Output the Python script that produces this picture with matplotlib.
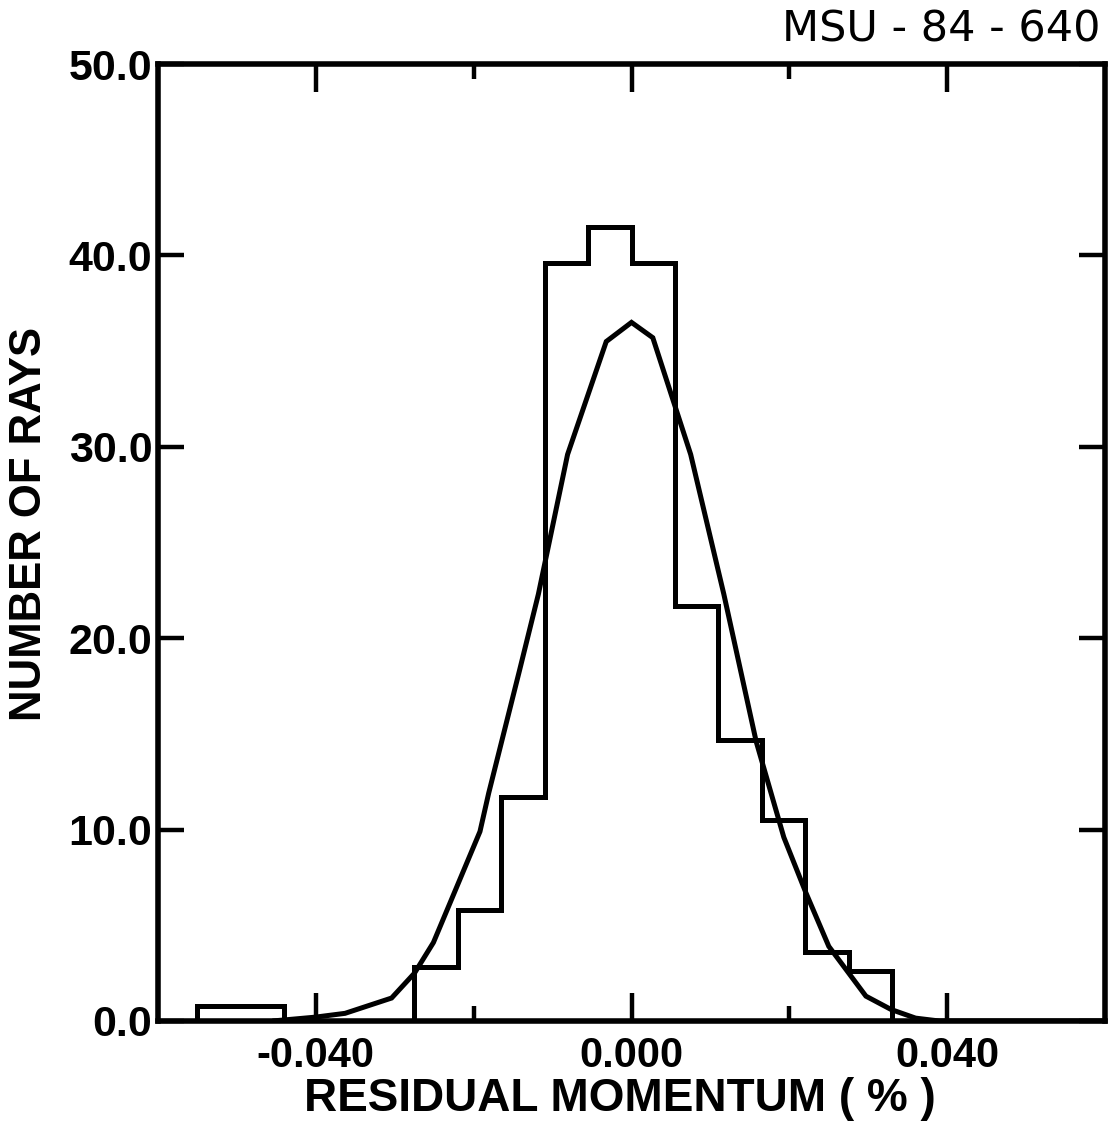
import matplotlib
matplotlib.use("Agg")
import matplotlib.pyplot as plt

# histogram of residual momentum, bin width 0.0055 %
bin_edges = [-0.0550, -0.0495, -0.0440, -0.0385, -0.0330, -0.0275, -0.0220,
             -0.0165, -0.0110, -0.0055, 0.0000, 0.0055, 0.0110, 0.0165,
             0.0220, 0.0275, 0.0330]
ray_counts = [0.8, 0.8, 0.0, 0.0, 0.0, 2.8, 5.8, 11.7, 39.6, 41.5,
              39.6, 21.7, 14.7, 10.5, 3.6, 2.6]

# fitted curve, as plotted (polyline vertices)
fit_x = [-0.0455, -0.0401, -0.0363, -0.0304, -0.0275, -0.0251, -0.0192,
         -0.0181, -0.0142, -0.0118, -0.0081, -0.0032, 0.0000, 0.0027,
         0.0075, 0.0117, 0.0158, 0.0193, 0.0221, 0.0250, 0.0297, 0.0329,
         0.0360, 0.0390, 0.0600]
fit_y = [0.0, 0.2, 0.4, 1.2, 2.5, 4.1, 9.9, 11.9, 18.3, 22.3, 29.6, 35.5,
         36.5, 35.7, 29.6, 22.3, 14.6, 9.6, 6.7, 3.9, 1.3, 0.6, 0.15, 0.0,
         0.0]

x_major = [-0.040, 0.000, 0.040]
x_major_labels = ["-0.040", "0.000", "0.040"]
x_minor = [-0.020, 0.020]
y_ticks = [0.0, 10.0, 20.0, 30.0, 40.0, 50.0]
y_labels = ["0.0", "10.0", "20.0", "30.0", "40.0", "50.0"]

W, H = 1115, 1133
fig = plt.figure(figsize=(W / 100, H / 100), dpi=100)
fig.patch.set_facecolor("white")
ax = fig.add_axes([158 / W, 1 - 1021 / H, 947 / W, 957 / H])

ax.stairs(ray_counts, bin_edges, color="black", linewidth=3.6)
ax.plot(fit_x, fit_y, color="black", linewidth=3.6,
        solid_joinstyle="miter", solid_capstyle="butt")

ax.set_xlim(-0.06, 0.06)
ax.set_ylim(0.0, 50.0)

for sp in ax.spines.values():
    sp.set_linewidth(4.0)
    sp.set_color("black")

tick_font = dict(family="Liberation Sans", weight="bold")
ax.set_xticks(x_major)
ax.set_xticklabels(x_major_labels, fontsize=30, **tick_font)
ax.set_xticks(x_minor, minor=True)
ax.set_yticks(y_ticks)
ax.set_yticklabels(y_labels, fontsize=31, **tick_font)

ax.tick_params(axis="x", which="major", direction="in", top=True,
               length=20, width=3.2, pad=11)
ax.tick_params(axis="x", which="minor", direction="in", top=True,
               length=11, width=3.2)
ax.tick_params(axis="y", which="major", direction="in", right=True,
               length=19, width=3.2, pad=4)

label_font = dict(family="Liberation Sans", weight="bold")
fig.text(30 / W, 1 - 524 / H, "NUMBER OF RAYS", rotation=90,
         ha="center", va="center", fontsize=31.5, **label_font)
fig.text(620 / W, 1 - 1099 / H, "RESIDUAL MOMENTUM ( % )",
         ha="center", va="center", fontsize=33, **label_font)
fig.text(1100 / W, 1 - 29 / H, "MSU - 84 - 640", ha="right", va="center",
         fontsize=31, family="DejaVu Sans")

fig.savefig("out.png", dpi=100, facecolor="white")
